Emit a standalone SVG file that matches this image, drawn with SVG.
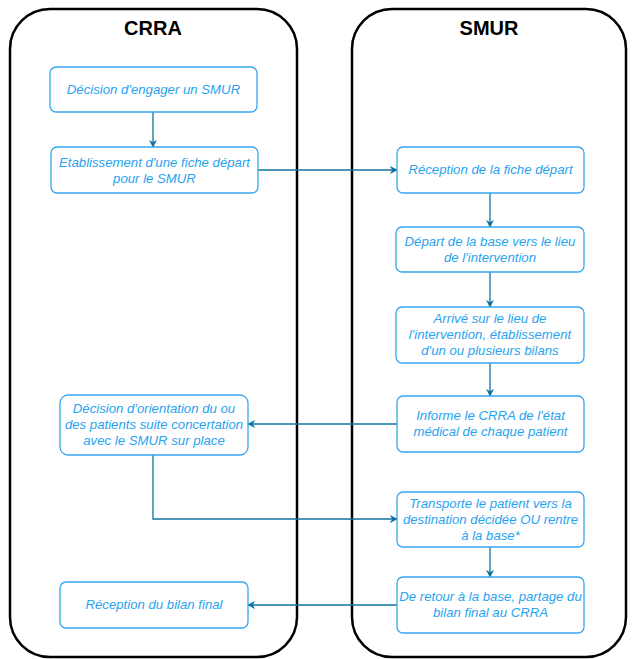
<svg xmlns="http://www.w3.org/2000/svg" width="633" height="659" viewBox="0 0 633 659">
<defs>
<style>
.lane{fill:#fff;stroke:#000;stroke-width:2.5}
.title{font-family:"Liberation Sans",Arial,sans-serif;font-weight:bold;font-size:20px;fill:#000;text-anchor:middle}
.box{fill:#fff;stroke:#33a8f0;stroke-width:1.3}
.t{font-family:"Liberation Sans",Arial,sans-serif;font-style:italic;font-size:13.2px;fill:#29a3f0;text-anchor:middle}
.c{fill:none;stroke:#10739e;stroke-width:1.3}
</style>
<marker id="ah" viewBox="0 0 10 10" refX="9" refY="5" markerWidth="8" markerHeight="8" markerUnits="userSpaceOnUse" orient="auto">
<path d="M0,0 L10,5 L0,10 L3,5 Z" fill="#10739e"/>
</marker>
</defs>
<rect width="633" height="659" fill="#fff"/>
<g id="lane-crra">
<rect class="lane" x="10" y="9" width="287" height="648" rx="40"/>
<text class="title" x="153" y="35">CRRA</text>
</g>
<g id="lane-smur">
<rect class="lane" x="352" y="9" width="274" height="648" rx="40"/>
<text class="title" x="489" y="35">SMUR</text>
</g>
<g id="connectors">
<path class="c" d="M153,112 V147" marker-end="url(#ah)"/>
<path class="c" d="M258,170 H397" marker-end="url(#ah)"/>
<path class="c" d="M490,193 V227" marker-end="url(#ah)"/>
<path class="c" d="M490,272 V307" marker-end="url(#ah)"/>
<path class="c" d="M490,363 V396" marker-end="url(#ah)"/>
<path class="c" d="M397,424 H248" marker-end="url(#ah)"/>
<path class="c" d="M153,455 V519 H397" marker-end="url(#ah)"/>
<path class="c" d="M490,547 V577" marker-end="url(#ah)"/>
<path class="c" d="M397,605 H248" marker-end="url(#ah)"/>
</g>
<g id="n1">
<rect class="box" x="50" y="67" width="207" height="45" rx="6"/>
<text class="t" x="153.5" y="94">Décision d'engager un SMUR</text>
</g>
<g id="n2">
<rect class="box" x="51" y="147" width="207" height="46" rx="6"/>
<text class="t" x="154.5" y="167">Etablissement d'une fiche départ</text>
<text class="t" x="154.5" y="183">pour le SMUR</text>
</g>
<g id="n3">
<rect class="box" x="60" y="395" width="188" height="60" rx="8"/>
<text class="t" x="154" y="413">Décision d'orientation du ou</text>
<text class="t" x="154" y="429">des patients suite concertation</text>
<text class="t" x="154" y="445">avec le SMUR sur place</text>
</g>
<g id="n4">
<rect class="box" x="60" y="582" width="188" height="46" rx="6"/>
<text class="t" x="154" y="609">Réception du bilan final</text>
</g>
<g id="r1">
<rect class="box" x="397" y="147" width="187" height="46" rx="6"/>
<text class="t" x="490.5" y="174">Réception de la fiche départ</text>
</g>
<g id="r2">
<rect class="box" x="396" y="227" width="188" height="45" rx="6"/>
<text class="t" x="490" y="246">Départ de la base vers le lieu</text>
<text class="t" x="490" y="262">de l'intervention</text>
</g>
<g id="r3">
<rect class="box" x="396" y="307" width="188" height="56" rx="6"/>
<text class="t" x="490" y="323">Arrivé sur le lieu de</text>
<text class="t" x="490" y="339">l'intervention, établissement</text>
<text class="t" x="490" y="355">d'un ou plusieurs bilans</text>
</g>
<g id="r4">
<rect class="box" x="397" y="396" width="187" height="56" rx="6"/>
<text class="t" x="490.5" y="420">Informe le CRRA de l'état</text>
<text class="t" x="490.5" y="436">médical de chaque patient</text>
</g>
<g id="r5">
<rect class="box" x="397" y="492" width="187" height="55" rx="6"/>
<text class="t" x="490.5" y="508">Transporte le patient vers la</text>
<text class="t" x="490.5" y="524">destination décidée OU rentre</text>
<text class="t" x="490.5" y="540">à la base*</text>
</g>
<g id="r6">
<rect class="box" x="397" y="577" width="187" height="56" rx="6"/>
<text class="t" x="490.5" y="601">De retour à la base, partage du</text>
<text class="t" x="490.5" y="617">bilan final au CRRA</text>
</g>
</svg>
